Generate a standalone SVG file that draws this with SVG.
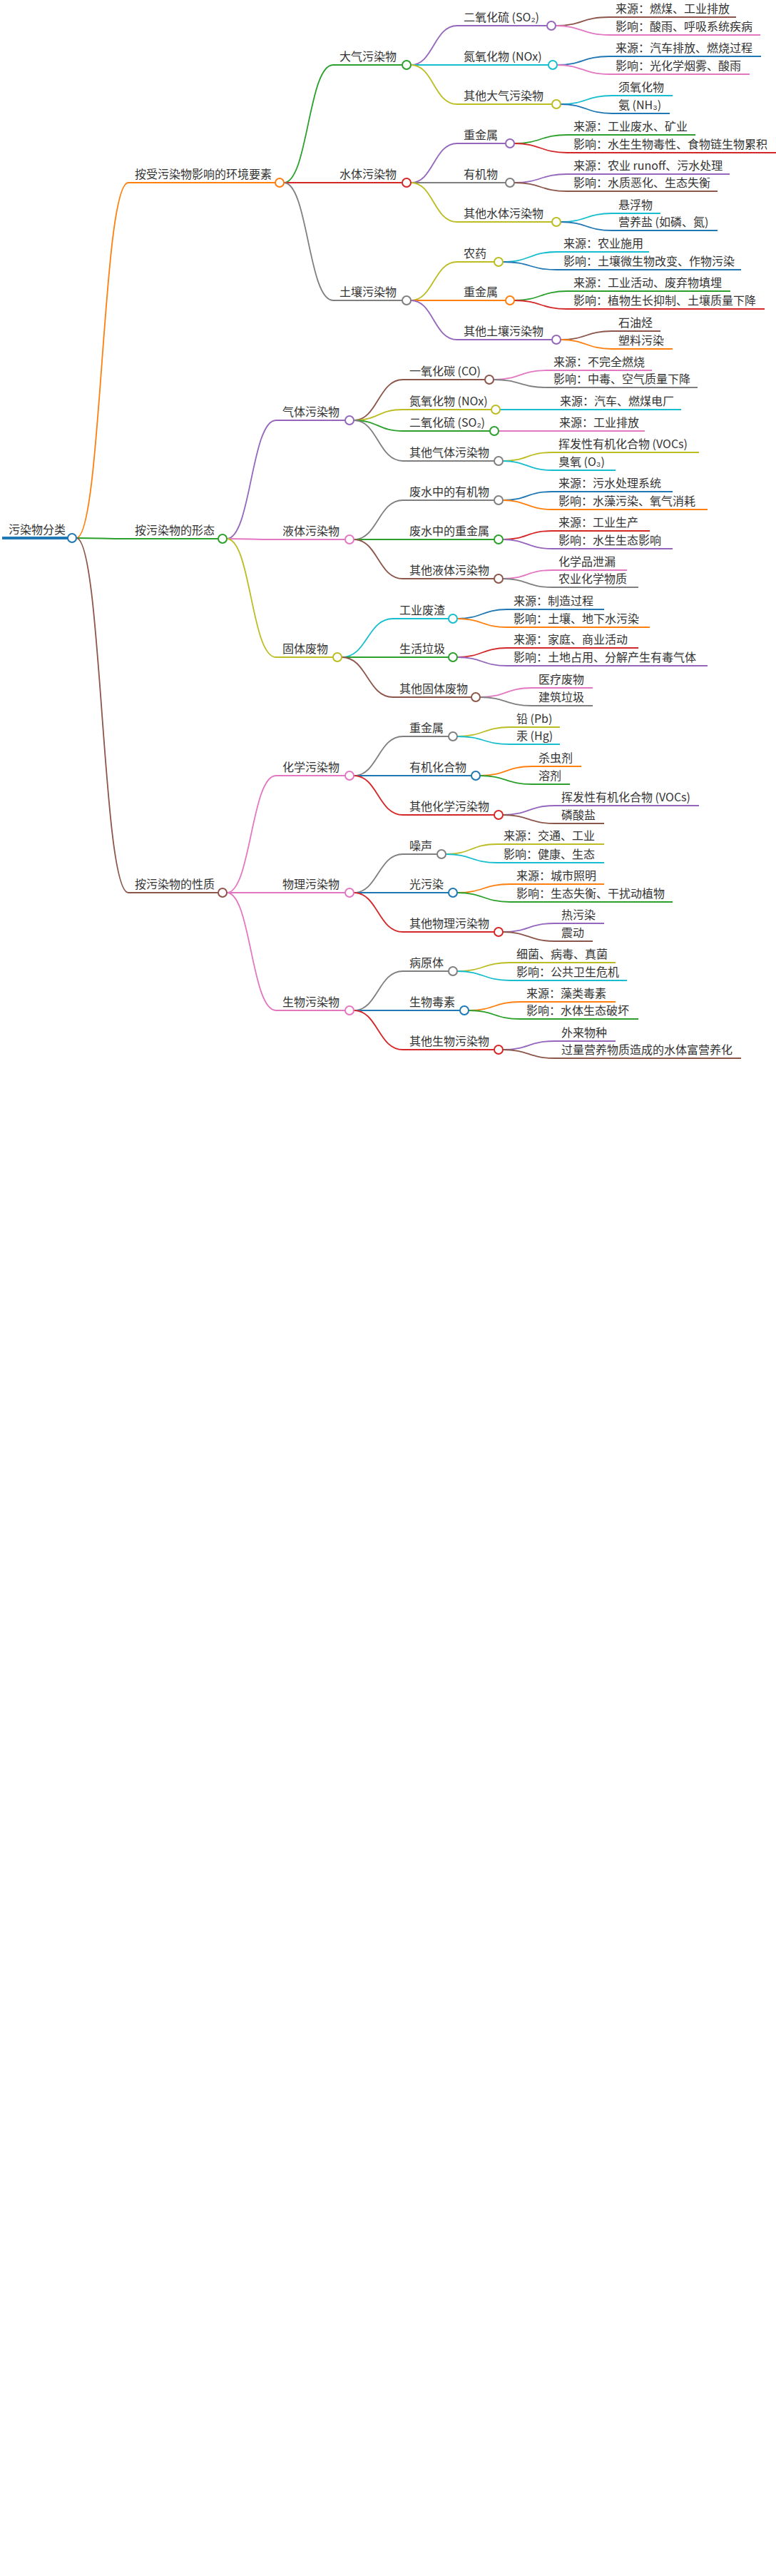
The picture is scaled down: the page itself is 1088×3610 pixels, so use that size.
<svg xmlns="http://www.w3.org/2000/svg" width="1088" height="3610" viewBox="0 0 1088 3610">
<style>
text{font-family:"Noto Sans CJK SC","Liberation Sans",sans-serif;font-size:16px;fill:#333}
path{fill:none;stroke-width:2}
#edges path{stroke-width:1.8}
circle{fill:#fff;stroke-width:2}
.O{stroke:#ff7f0e}.G{stroke:#2ca02c}.R{stroke:#d62728}.P{stroke:#9467bd}.B{stroke:#8c564b}.K{stroke:#e377c2}.Y{stroke:#7f7f7f}.L{stroke:#bcbd22}.C{stroke:#17becf}.U{stroke:#1f77b4}
</style>
<rect width="1088" height="3610" fill="#fff"/>
<g id="edges">
<path class="O" d="M107 754C143 754 143 256 180 256"/>
<path class="G" d="M107 754C143 754 143 755 180 755"/>
<path class="B" d="M107 754C143 754 143 1251 180 1251"/>
<path class="G" d="M398 256C432 256 432 91 467 91"/>
<path class="R" d="M398 256C432 256 432 256 467 256"/>
<path class="Y" d="M398 256C432 256 432 421 467 421"/>
<path class="P" d="M318 755C352 755 352 589 387 589"/>
<path class="K" d="M318 755C352 755 352 756 387 756"/>
<path class="L" d="M318 755C352 755 352 921 387 921"/>
<path class="K" d="M318 1251C352 1251 352 1087 387 1087"/>
<path class="K" d="M318 1251C352 1251 352 1251 387 1251"/>
<path class="K" d="M318 1251C352 1251 352 1416 387 1416"/>
<path class="P" d="M576 91C608 91 608 36 641 36"/>
<path class="C" d="M576 91C608 91 608 91 641 91"/>
<path class="L" d="M576 91C608 91 608 146 641 146"/>
<path class="P" d="M576 256C608 256 608 201 641 201"/>
<path class="Y" d="M576 256C608 256 608 256 641 256"/>
<path class="L" d="M576 256C608 256 608 311 641 311"/>
<path class="L" d="M576 421C608 421 608 367 641 367"/>
<path class="O" d="M576 421C608 421 608 421 641 421"/>
<path class="P" d="M576 421C608 421 608 476 641 476"/>
<path class="B" d="M496 589C530 589 530 532 565 532"/>
<path class="L" d="M496 589C530 589 530 574 565 574"/>
<path class="G" d="M496 589C530 589 530 604 565 604"/>
<path class="Y" d="M496 589C530 589 530 646 565 646"/>
<path class="Y" d="M496 756C530 756 530 701 565 701"/>
<path class="G" d="M496 756C530 756 530 756 565 756"/>
<path class="B" d="M496 756C530 756 530 811 565 811"/>
<path class="C" d="M479 921C515 921 515 867 551 867"/>
<path class="G" d="M479 921C515 921 515 921 551 921"/>
<path class="B" d="M479 921C515 921 515 977 551 977"/>
<path class="Y" d="M496 1087C530 1087 530 1032 565 1032"/>
<path class="U" d="M496 1087C530 1087 530 1087 565 1087"/>
<path class="R" d="M496 1087C530 1087 530 1142 565 1142"/>
<path class="Y" d="M496 1251C530 1251 530 1197 565 1197"/>
<path class="U" d="M496 1251C530 1251 530 1251 565 1251"/>
<path class="R" d="M496 1251C530 1251 530 1306 565 1306"/>
<path class="Y" d="M496 1416C530 1416 530 1361 565 1361"/>
<path class="U" d="M496 1416C530 1416 530 1416 565 1416"/>
<path class="R" d="M496 1416C530 1416 530 1471 565 1471"/>
<path class="B" d="M779 36C816 36 816 24 854 24"/>
<path class="K" d="M779 36C816 36 816 49 854 49"/>
<path class="U" d="M781 91C817 91 817 79 854 79"/>
<path class="K" d="M781 91C817 91 817 104 854 104"/>
<path class="C" d="M786 146C822 146 822 134 858 134"/>
<path class="U" d="M786 146C822 146 822 159 858 159"/>
<path class="G" d="M721 201C758 201 758 189 795 189"/>
<path class="R" d="M721 201C758 201 758 214 795 214"/>
<path class="P" d="M721 256C758 256 758 244 795 244"/>
<path class="B" d="M721 256C758 256 758 268 795 268"/>
<path class="C" d="M786 311C822 311 822 299 858 299"/>
<path class="U" d="M786 311C822 311 822 323 858 323"/>
<path class="C" d="M705 367C743 367 743 353 781 353"/>
<path class="U" d="M705 367C743 367 743 378 781 378"/>
<path class="G" d="M721 421C758 421 758 408 795 408"/>
<path class="R" d="M721 421C758 421 758 433 795 433"/>
<path class="B" d="M786 476C822 476 822 464 858 464"/>
<path class="O" d="M786 476C822 476 822 489 858 489"/>
<path class="K" d="M692 532C729 532 729 519 767 519"/>
<path class="Y" d="M692 532C729 532 729 543 767 543"/>
<path class="C" d="M701 574C738 574 738 574 776 574"/>
<path class="K" d="M699 604C737 604 737 604 776 604"/>
<path class="L" d="M705 646C739 646 739 634 774 634"/>
<path class="C" d="M705 646C739 646 739 659 774 659"/>
<path class="U" d="M705 701C739 701 739 689 774 689"/>
<path class="O" d="M705 701C739 701 739 714 774 714"/>
<path class="R" d="M705 756C739 756 739 744 774 744"/>
<path class="P" d="M705 756C739 756 739 769 774 769"/>
<path class="K" d="M705 811C739 811 739 799 774 799"/>
<path class="Y" d="M705 811C739 811 739 823 774 823"/>
<path class="U" d="M641 867C676 867 676 854 711 854"/>
<path class="O" d="M641 867C676 867 676 879 711 879"/>
<path class="R" d="M641 921C676 921 676 908 711 908"/>
<path class="P" d="M641 921C676 921 676 933 711 933"/>
<path class="K" d="M673 977C709 977 709 964 746 964"/>
<path class="Y" d="M673 977C709 977 709 989 746 989"/>
<path class="L" d="M641 1032C678 1032 678 1019 715 1019"/>
<path class="C" d="M641 1032C678 1032 678 1043 715 1043"/>
<path class="O" d="M673 1087C709 1087 709 1074 746 1074"/>
<path class="G" d="M673 1087C709 1087 709 1099 746 1099"/>
<path class="P" d="M705 1142C741 1142 741 1129 778 1129"/>
<path class="B" d="M705 1142C741 1142 741 1154 778 1154"/>
<path class="L" d="M625 1197C661 1197 661 1183 697 1183"/>
<path class="C" d="M625 1197C661 1197 661 1209 697 1209"/>
<path class="O" d="M641 1251C678 1251 678 1239 715 1239"/>
<path class="G" d="M641 1251C678 1251 678 1264 715 1264"/>
<path class="P" d="M705 1306C741 1306 741 1294 778 1294"/>
<path class="B" d="M705 1306C741 1306 741 1319 778 1319"/>
<path class="L" d="M641 1361C678 1361 678 1349 715 1349"/>
<path class="C" d="M641 1361C678 1361 678 1374 715 1374"/>
<path class="O" d="M657 1416C693 1416 693 1404 729 1404"/>
<path class="G" d="M657 1416C693 1416 693 1428 729 1428"/>
<path class="P" d="M705 1471C741 1471 741 1459 778 1459"/>
<path class="B" d="M705 1471C741 1471 741 1483 778 1483"/>
</g>
<g id="root"><path class="U" style="stroke-width:4" d="M3 754H95"/><circle class="U" cx="101" cy="754" r="6"/><text x="12" y="748">污染物分类</text></g>
<g id="n1a"><path class="O" d="M180 256H386"/><circle class="O" cx="392" cy="256" r="6"/><text x="189" y="250">按受污染物影响的环境要素</text></g>
<g id="n1b"><path class="G" d="M180 755H306"/><circle class="G" cx="312" cy="755" r="6"/><text x="189" y="749">按污染物的形态</text></g>
<g id="n1c"><path class="B" d="M180 1251H306"/><circle class="B" cx="312" cy="1251" r="6"/><text x="189" y="1245">按污染物的性质</text></g>
<g id="n2a1"><path class="G" d="M467 91H564"/><circle class="G" cx="570" cy="91" r="6"/><text x="476" y="85">大气污染物</text></g>
<g id="n2a2"><path class="R" d="M467 256H564"/><circle class="R" cx="570" cy="256" r="6"/><text x="476" y="250">水体污染物</text></g>
<g id="n2a3"><path class="Y" d="M467 421H564"/><circle class="Y" cx="570" cy="421" r="6"/><text x="476" y="415">土壤污染物</text></g>
<g id="n2b1"><path class="P" d="M387 589H484"/><circle class="P" cx="490" cy="589" r="6"/><text x="396" y="583">气体污染物</text></g>
<g id="n2b2"><path class="K" d="M387 756H484"/><circle class="K" cx="490" cy="756" r="6"/><text x="396" y="750">液体污染物</text></g>
<g id="n2b3"><path class="L" d="M387 921H467"/><circle class="L" cx="473" cy="921" r="6"/><text x="396" y="915">固体废物</text></g>
<g id="n2c1"><path class="K" d="M387 1087H484"/><circle class="K" cx="490" cy="1087" r="6"/><text x="396" y="1081">化学污染物</text></g>
<g id="n2c2"><path class="K" d="M387 1251H484"/><circle class="K" cx="490" cy="1251" r="6"/><text x="396" y="1245">物理污染物</text></g>
<g id="n2c3"><path class="K" d="M387 1416H484"/><circle class="K" cx="490" cy="1416" r="6"/><text x="396" y="1410">生物污染物</text></g>
<g id="n3a1"><path class="P" d="M641 36H767"/><circle class="P" cx="773" cy="36" r="6"/><text x="650" y="30">二氧化硫 (SO₂)</text></g>
<g id="n3a2"><path class="C" d="M641 91H769"/><circle class="C" cx="775" cy="91" r="6"/><text x="650" y="85">氮氧化物 (NOx)</text></g>
<g id="n3a3"><path class="L" d="M641 146H774"/><circle class="L" cx="780" cy="146" r="6"/><text x="650" y="140">其他大气污染物</text></g>
<g id="n3a4"><path class="P" d="M641 201H709"/><circle class="P" cx="715" cy="201" r="6"/><text x="650" y="195">重金属</text></g>
<g id="n3a5"><path class="Y" d="M641 256H709"/><circle class="Y" cx="715" cy="256" r="6"/><text x="650" y="250">有机物</text></g>
<g id="n3a6"><path class="L" d="M641 311H774"/><circle class="L" cx="780" cy="311" r="6"/><text x="650" y="305">其他水体污染物</text></g>
<g id="n3a7"><path class="L" d="M641 367H693"/><circle class="L" cx="699" cy="367" r="6"/><text x="650" y="361">农药</text></g>
<g id="n3a8"><path class="O" d="M641 421H709"/><circle class="O" cx="715" cy="421" r="6"/><text x="650" y="415">重金属</text></g>
<g id="n3a9"><path class="P" d="M641 476H774"/><circle class="P" cx="780" cy="476" r="6"/><text x="650" y="470">其他土壤污染物</text></g>
<g id="n3b1"><path class="B" d="M565 532H680"/><circle class="B" cx="686" cy="532" r="6"/><text x="574" y="526">一氧化碳 (CO)</text></g>
<g id="n3b2"><path class="L" d="M565 574H689"/><circle class="L" cx="695" cy="574" r="6"/><text x="574" y="568">氮氧化物 (NOx)</text></g>
<g id="n3b3"><path class="G" d="M565 604H687"/><circle class="G" cx="693" cy="604" r="6"/><text x="574" y="598">二氧化硫 (SO₂)</text></g>
<g id="n3b4"><path class="Y" d="M565 646H693"/><circle class="Y" cx="699" cy="646" r="6"/><text x="574" y="640">其他气体污染物</text></g>
<g id="n3b5"><path class="Y" d="M565 701H693"/><circle class="Y" cx="699" cy="701" r="6"/><text x="574" y="695">废水中的有机物</text></g>
<g id="n3b6"><path class="G" d="M565 756H693"/><circle class="G" cx="699" cy="756" r="6"/><text x="574" y="750">废水中的重金属</text></g>
<g id="n3b7"><path class="B" d="M565 811H693"/><circle class="B" cx="699" cy="811" r="6"/><text x="574" y="805">其他液体污染物</text></g>
<g id="n3b8"><path class="C" d="M551 867H629"/><circle class="C" cx="635" cy="867" r="6"/><text x="560" y="861">工业废渣</text></g>
<g id="n3b9"><path class="G" d="M551 921H629"/><circle class="G" cx="635" cy="921" r="6"/><text x="560" y="915">生活垃圾</text></g>
<g id="n3b10"><path class="B" d="M551 977H661"/><circle class="B" cx="667" cy="977" r="6"/><text x="560" y="971">其他固体废物</text></g>
<g id="n3c1"><path class="Y" d="M565 1032H629"/><circle class="Y" cx="635" cy="1032" r="6"/><text x="574" y="1026">重金属</text></g>
<g id="n3c2"><path class="U" d="M565 1087H661"/><circle class="U" cx="667" cy="1087" r="6"/><text x="574" y="1081">有机化合物</text></g>
<g id="n3c3"><path class="R" d="M565 1142H693"/><circle class="R" cx="699" cy="1142" r="6"/><text x="574" y="1136">其他化学污染物</text></g>
<g id="n3c4"><path class="Y" d="M565 1197H613"/><circle class="Y" cx="619" cy="1197" r="6"/><text x="574" y="1191">噪声</text></g>
<g id="n3c5"><path class="U" d="M565 1251H629"/><circle class="U" cx="635" cy="1251" r="6"/><text x="574" y="1245">光污染</text></g>
<g id="n3c6"><path class="R" d="M565 1306H693"/><circle class="R" cx="699" cy="1306" r="6"/><text x="574" y="1300">其他物理污染物</text></g>
<g id="n3c7"><path class="Y" d="M565 1361H629"/><circle class="Y" cx="635" cy="1361" r="6"/><text x="574" y="1355">病原体</text></g>
<g id="n3c8"><path class="U" d="M565 1416H645"/><circle class="U" cx="651" cy="1416" r="6"/><text x="574" y="1410">生物毒素</text></g>
<g id="n3c9"><path class="R" d="M565 1471H693"/><circle class="R" cx="699" cy="1471" r="6"/><text x="574" y="1465">其他生物污染物</text></g>
<g id="leaves">
<g id="l1"><path class="B" d="M854 24H1032"/><text x="863" y="18">来源：燃煤、工业排放</text></g>
<g id="l2"><path class="K" d="M854 49H1066"/><text x="863" y="43">影响：酸雨、呼吸系统疾病</text></g>
<g id="l3"><path class="U" d="M854 79H1067"/><text x="863" y="73">来源：汽车排放、燃烧过程</text></g>
<g id="l4"><path class="K" d="M854 104H1051"/><text x="863" y="98">影响：光化学烟雾、酸雨</text></g>
<g id="l5"><path class="C" d="M858 134H943"/><text x="867" y="128">须氧化物</text></g>
<g id="l6"><path class="U" d="M858 159H939"/><text x="867" y="153">氨 (NH₃)</text></g>
<g id="l7"><path class="G" d="M795 189H975"/><text x="804" y="183">来源：工业废水、矿业</text></g>
<g id="l8"><path class="R" d="M795 214H1088"/><text x="804" y="208">影响：水生生物毒性、食物链生物累积</text></g>
<g id="l9"><path class="P" d="M795 244H1023"/><text x="804" y="238">来源：农业 runoff、污水处理</text></g>
<g id="l10"><path class="B" d="M795 268H1006"/><text x="804" y="262">影响：水质恶化、生态失衡</text></g>
<g id="l11"><path class="C" d="M858 299H926"/><text x="867" y="293">悬浮物</text></g>
<g id="l12"><path class="U" d="M858 323H1006"/><text x="867" y="317">营养盐 (如磷、氮)</text></g>
<g id="l13"><path class="C" d="M781 353H910"/><text x="790" y="347">来源：农业施用</text></g>
<g id="l14"><path class="U" d="M781 378H1039"/><text x="790" y="372">影响：土壤微生物改变、作物污染</text></g>
<g id="l15"><path class="G" d="M795 408H1024"/><text x="804" y="402">来源：工业活动、废弃物填埋</text></g>
<g id="l16"><path class="R" d="M795 433H1072"/><text x="804" y="427">影响：植物生长抑制、土壤质量下降</text></g>
<g id="l17"><path class="B" d="M858 464H926"/><text x="867" y="458">石油烃</text></g>
<g id="l18"><path class="O" d="M858 489H943"/><text x="867" y="483">塑料污染</text></g>
<g id="l19"><path class="K" d="M767 519H914"/><text x="776" y="513">来源：不完全燃烧</text></g>
<g id="l20"><path class="Y" d="M767 543H978"/><text x="776" y="537">影响：中毒、空气质量下降</text></g>
<g id="l21"><path class="C" d="M776 574H955"/><text x="785" y="568">来源：汽车、燃煤电厂</text></g>
<g id="l22"><path class="K" d="M776 604H904"/><text x="784" y="598">来源：工业排放</text></g>
<g id="l23"><path class="L" d="M774 634H980"/><text x="783" y="628">挥发性有机化合物 (VOCs)</text></g>
<g id="l24"><path class="C" d="M774 659H863"/><text x="783" y="653">臭氧 (O₃)</text></g>
<g id="l25"><path class="U" d="M774 689H943"/><text x="783" y="683">来源：污水处理系统</text></g>
<g id="l26"><path class="O" d="M774 714H992"/><text x="783" y="708">影响：水藻污染、氧气消耗</text></g>
<g id="l27"><path class="R" d="M774 744H911"/><text x="783" y="738">来源：工业生产</text></g>
<g id="l28"><path class="P" d="M774 769H943"/><text x="783" y="763">影响：水生生态影响</text></g>
<g id="l29"><path class="K" d="M774 799H879"/><text x="783" y="793">化学品泄漏</text></g>
<g id="l30"><path class="Y" d="M774 823H895"/><text x="783" y="817">农业化学物质</text></g>
<g id="l31"><path class="U" d="M711 854H847"/><text x="720" y="848">来源：制造过程</text></g>
<g id="l32"><path class="O" d="M711 879H911"/><text x="720" y="873">影响：土壤、地下水污染</text></g>
<g id="l33"><path class="R" d="M711 908H895"/><text x="720" y="902">来源：家庭、商业活动</text></g>
<g id="l34"><path class="P" d="M711 933H992"/><text x="720" y="927">影响：土地占用、分解产生有毒气体</text></g>
<g id="l35"><path class="K" d="M746 964H831"/><text x="755" y="958">医疗废物</text></g>
<g id="l36"><path class="Y" d="M746 989H831"/><text x="755" y="983">建筑垃圾</text></g>
<g id="l37"><path class="L" d="M715 1019H785"/><text x="724" y="1013">铅 (Pb)</text></g>
<g id="l38"><path class="C" d="M715 1043H785"/><text x="724" y="1037">汞 (Hg)</text></g>
<g id="l39"><path class="O" d="M746 1074H815"/><text x="755" y="1068">杀虫剂</text></g>
<g id="l40"><path class="G" d="M746 1099H799"/><text x="755" y="1093">溶剂</text></g>
<g id="l41"><path class="P" d="M778 1129H980"/><text x="787" y="1123">挥发性有机化合物 (VOCs)</text></g>
<g id="l42"><path class="B" d="M778 1154H847"/><text x="787" y="1148">磷酸盐</text></g>
<g id="l43"><path class="L" d="M697 1183H847"/><text x="706" y="1177">来源：交通、工业</text></g>
<g id="l44"><path class="C" d="M697 1209H847"/><text x="706" y="1203">影响：健康、生态</text></g>
<g id="l45"><path class="O" d="M715 1239H847"/><text x="724" y="1233">来源：城市照明</text></g>
<g id="l46"><path class="G" d="M715 1264H943"/><text x="724" y="1258">影响：生态失衡、干扰动植物</text></g>
<g id="l47"><path class="P" d="M778 1294H847"/><text x="787" y="1288">热污染</text></g>
<g id="l48"><path class="B" d="M778 1319H831"/><text x="787" y="1313">震动</text></g>
<g id="l49"><path class="L" d="M715 1349H863"/><text x="724" y="1343">细菌、病毒、真菌</text></g>
<g id="l50"><path class="C" d="M715 1374H879"/><text x="724" y="1368">影响：公共卫生危机</text></g>
<g id="l51"><path class="O" d="M729 1404H863"/><text x="738" y="1398">来源：藻类毒素</text></g>
<g id="l52"><path class="G" d="M729 1428H895"/><text x="738" y="1422">影响：水体生态破坏</text></g>
<g id="l53"><path class="P" d="M778 1459H863"/><text x="787" y="1453">外来物种</text></g>
<g id="l54"><path class="B" d="M778 1483H1039"/><text x="787" y="1477">过量营养物质造成的水体富营养化</text></g>
</g>
</svg>
